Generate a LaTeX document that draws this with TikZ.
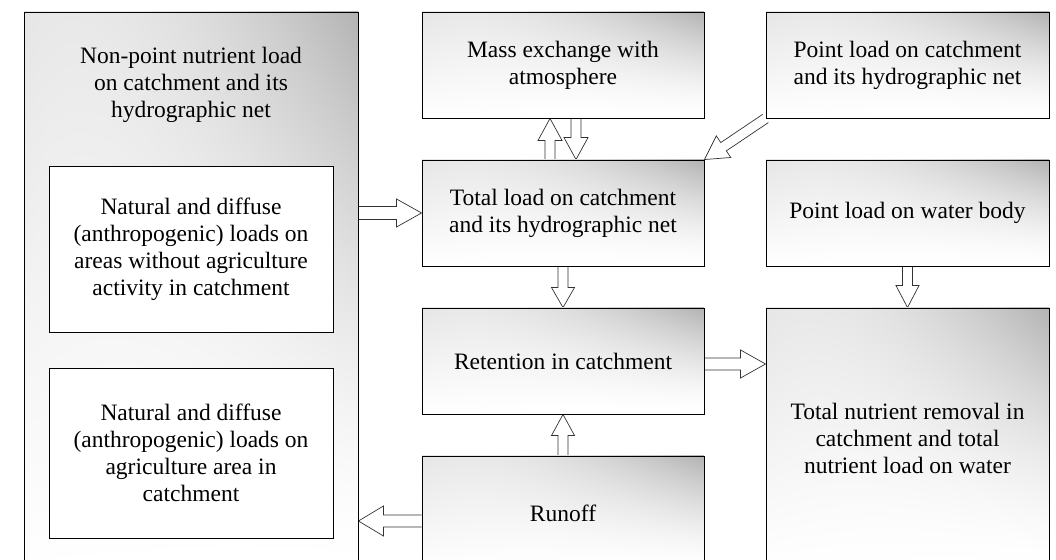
\documentclass[tikz,border=0pt]{standalone}
\usepackage{fontspec}
\setmainfont{Liberation Serif}
\usetikzlibrary{calc,shadings,backgrounds}
\pgfdeclarefunctionalshading{boxgrad}{\pgfpointorigin}{\pgfpoint{100bp}{100bp}}{}{%
25 sub 50 div exch 25 sub 50 div
dup 0 lt {pop 0} if dup 1 gt {pop 1} if
exch
dup 0 lt {pop 0} if dup 1 gt {pop 1} if
2 copy mul dup sqrt mul 0.30 mul
3 1 roll
exch 1 exch sub dup mul mul 0.10 mul add
1 exch sub dup dup}
\newcommand\diagfont{\fontsize{23.5}{27}\selectfont}
\newcommand\fatarrow[5]{%
  \coordinate (fabase) at ($(#2)!#5!(#1)$);
  \draw[arrowline] ($(#1)!#3!90:(#2)$) -- ($(fabase)!#3!90:(#2)$) -- ($(fabase)!#4!90:(#2)$) -- (#2)
    -- ($(fabase)!#4!-90:(#2)$) -- ($(fabase)!#3!-90:(#2)$) -- ($(#1)!#3!-90:(#2)$);}
\tikzset{
  box/.style={draw=black, line width=0.9pt, shading=boxgrad, align=center, font=\diagfont, inner sep=0pt},
  whitebox/.style={draw=black, line width=0.9pt, fill=white, align=center, font=\diagfont, inner sep=0pt},
  plaintext/.style={align=center, font=\diagfont, inner sep=0pt},
  arrowline/.style={draw=black!80, line width=0.7pt, fill=white, line join=miter}
}
\begin{document}
\begin{tikzpicture}[x=1pt,y=1pt]
\useasboundingbox (0,0) rectangle (1056,559);
% left column
\node[box, minimum width=334pt, minimum height=558pt] (nps) at (191,268) {};
\node[plaintext] (npstitle) at (191,474) {Non-point nutrient load\\on catchment and its\\hydrographic net};
\node[whitebox, minimum width=284pt, minimum height=166pt] (in1) at (191,310) {Natural and diffuse\\(anthropogenic) loads on\\areas without agriculture\\activity in catchment};
\node[whitebox, minimum width=284pt, minimum height=170pt] (in2) at (191,106) {Natural and diffuse\\(anthropogenic) loads on\\agriculture area in\\catchment};
% middle column
\node[box, minimum width=282pt, minimum height=106pt] (mass) at (563,494) {Mass exchange with\\atmosphere};
\node[box, minimum width=282pt, minimum height=106pt] (tot) at (563,346) {Total load on catchment\\and its hydrographic net};
\node[box, minimum width=282pt, minimum height=106pt] (ret) at (563,198) {Retention in catchment};
\node[box, minimum width=282pt, minimum height=114pt] (runoff) at (563,46) {Runoff};
% right column
\node[box, minimum width=283pt, minimum height=106pt] (ptc) at (907.5,494) {Point load on catchment\\and its hydrographic net};
\node[box, minimum width=283pt, minimum height=106pt] (ptw) at (907.5,346) {Point load on water body};
\node[box, minimum width=283pt, minimum height=260pt] (rem) at (907.5,121) {Total nutrient removal in\\catchment and total\\nutrient load on water};
% arrows
\begin{pgfonlayer}{background}
\coordinate (a1s) at (nps.east |- tot.west);
\fatarrow{a1s}{tot.west}{6.5pt}{14pt}{25pt}
\coordinate (a2s) at ($(tot.north)+(-13,0)$);
\coordinate (a2e) at ($(mass.south)+(-13,0)$);
\fatarrow{a2s}{a2e}{5pt}{12pt}{22pt}
\coordinate (a3s) at ($(mass.south)+(13,0)$);
\coordinate (a3e) at ($(tot.north)+(13,0)$);
\fatarrow{a3s}{a3e}{5pt}{12pt}{22pt}
\fatarrow{ptc.south west}{tot.north east}{5pt}{13pt}{23pt}
\fatarrow{tot.south}{ret.north}{5pt}{11.5pt}{20pt}
\fatarrow{ptw.south}{rem.north}{5pt}{11.5pt}{22pt}
\coordinate (a7s) at ($(ret.east)+(0,-3)$);
\coordinate (a7e) at (rem.west |- a7s);
\fatarrow{a7s}{a7e}{6pt}{14pt}{25pt}
\fatarrow{runoff.north}{ret.south}{5pt}{11.5pt}{21pt}
\coordinate (a9s) at ($(runoff.west)+(0,-8)$);
\coordinate (a9e) at (nps.east |- a9s);
\fatarrow{a9s}{a9e}{6pt}{15pt}{25pt}
\end{pgfonlayer}
\end{tikzpicture}
\end{document}
